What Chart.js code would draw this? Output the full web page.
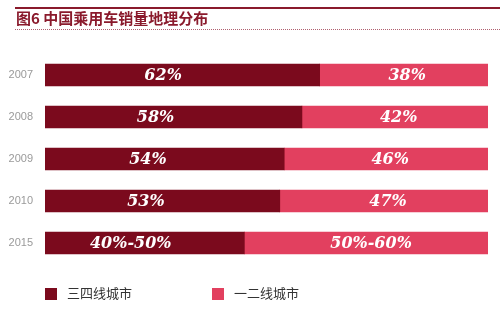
<!DOCTYPE html>
<html>
<head>
<meta charset="utf-8">
<script src="https://cdn.jsdelivr.net/npm/chart.js@4"></script>
<style>
  body { margin: 0; background: #fff; }
  #wrap { position: relative; width: 500px; height: 310px; overflow: hidden; }
  #topline { position: absolute; left: 15px; top: 7px; width: 485px; height: 2px; background: #8a1a2c; }
  #title { position: absolute; left: 16px; top: 9px; font: bold 15px "Noto Sans CJK SC", sans-serif; color: #8a1a2c; line-height: 18px; }
  #dots { position: absolute; left: 15px; top: 29px; width: 485px; border-top: 1px dotted #b06070; }
  #legend { position: absolute; left: 0; top: 286px; font: 13px "Noto Sans CJK SC", sans-serif; color: #333; }
  .item { position: absolute; white-space: nowrap; }
  .box { position: absolute; top: 2px; width: 12px; height: 12px; }
  .txt { position: absolute; left: 22px; top: -1px; line-height: 16px; }
  canvas { position: absolute; left: 0; top: 0; }
</style>
</head>
<body>
<div id="wrap">
  <canvas id="chart" width="500" height="310"></canvas>
  <div id="topline"></div>
  <div id="title">图6 中国乘用车销量地理分布</div>
  <div id="dots"></div>
  <div id="legend"></div>
</div>
<script>
const years = ["2007", "2008", "2009", "2010", "2015"];
const lowTierShare = [62, 58, 54, 53, 45];
const highTierShare = [38, 42, 46, 47, 55];
const lowTierText = ["62%", "58%", "54%", "53%", "40%-50%"];
const highTierText = ["38%", "42%", "46%", "47%", "50%-60%"];
const seriesNames = ["三四线城市", "一二线城市"];
const seriesColors = ["#7b0a1d", "#e2405f"];

// write the percentages inside each segment
const barText = {
  id: "barText",
  afterDatasetsDraw(chart) {
    const ctx = chart.ctx;
    const xs = chart.scales.x;
    const texts = [lowTierText, highTierText];
    const frac = [0.43, 0.52];
    ctx.save();
    ctx.fillStyle = "#fff";
    ctx.font = "italic bold 16px 'DejaVu Serif', serif";
    ctx.textAlign = "center";
    ctx.textBaseline = "middle";
    chart.data.datasets.forEach((ds, di) => {
      chart.getDatasetMeta(di).data.forEach((bar, i) => {
        const start = di === 0 ? 0 : lowTierShare[i];
        const x = xs.getPixelForValue(start + ds.data[i] * frac[di]);
        ctx.fillText(texts[di][i], x, bar.y + 1);
      });
    });
    ctx.restore();
  }
};

new Chart(document.getElementById("chart"), {
  type: "bar",
  data: {
    labels: years,
    datasets: [
      { label: seriesNames[0], data: lowTierShare, backgroundColor: seriesColors[0] },
      { label: seriesNames[1], data: highTierShare, backgroundColor: seriesColors[1] }
    ]
  },
  options: {
    indexAxis: "y",
    responsive: false,
    animation: false,
    layout: { padding: { top: 54, bottom: 46, left: 0, right: 12 } },
    datasets: { bar: { barThickness: 22, borderWidth: 0 } },
    plugins: { legend: { display: false }, tooltip: { enabled: false } },
    scales: {
      x: { stacked: true, min: 0, max: 100, display: false },
      y: {
        stacked: true,
        grid: { display: false },
        border: { display: false },
        afterFit(axis) { axis.width = 45; },
        ticks: { color: "#9a9a9a", padding: 4, font: { family: "'Liberation Sans', Arial, sans-serif", size: 11 } }
      }
    }
  },
  plugins: [barText]
});

const legend = document.getElementById("legend");
const legendX = [45, 212];
seriesNames.forEach((name, i) => {
  const item = document.createElement("div");
  item.className = "item";
  item.style.left = legendX[i] + "px";
  item.innerHTML = '<div class="box" style="background:' + seriesColors[i] + '"></div><div class="txt">' + name + '</div>';
  legend.appendChild(item);
});
</script>
</body>
</html>
